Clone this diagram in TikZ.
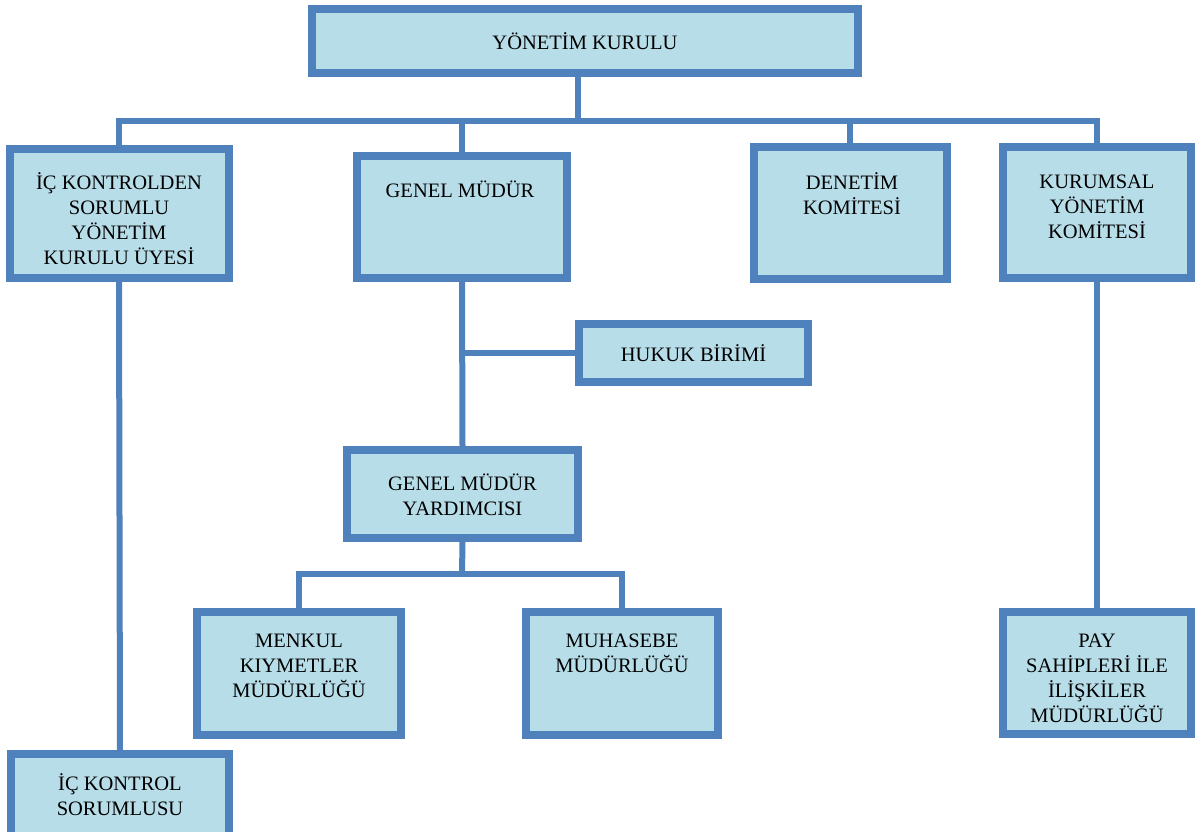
\documentclass[tikz,border=0pt]{standalone}
\usepackage{fontspec}
\setmainfont{Liberation Serif}
\definecolor{bordercol}{HTML}{4F81BD}
\definecolor{fillcol}{HTML}{B7DDE8}
\begin{document}
\begin{tikzpicture}[x=1pt,y=-1pt,
  box/.style={draw=bordercol,fill=fillcol,line width=8pt,rectangle,inner sep=0pt},
  conn/.style={draw=bordercol,line width=6pt,line join=miter},
  txt/.style={align=center,inner sep=0pt,font=\fontsize{20.5}{25}\selectfont}]
\clip (0,0) rectangle (1195,832);
\fill[white] (0,0) rectangle (1195,832);
% boxes
\node[box,minimum width=546pt,minimum height=64pt] (yk) at (585,41) {};
\node[box,minimum width=219pt,minimum height=129pt] (ick) at (119,213.5) {};
\node[box,minimum width=210pt,minimum height=122pt] (gm) at (462,217) {};
\node[box,minimum width=193pt,minimum height=132pt] (den) at (850,213) {};
\node[box,minimum width=188pt,minimum height=131pt] (kur) at (1097,212.5) {};
\node[box,minimum width=229pt,minimum height=58pt] (huk) at (693.5,353) {};
\node[box,minimum width=231pt,minimum height=88pt] (gmy) at (462.5,494) {};
\node[box,minimum width=204pt,minimum height=123pt] (menk) at (299,673.5) {};
\node[box,minimum width=192pt,minimum height=123pt] (muh) at (622,673.5) {};
\node[box,minimum width=188pt,minimum height=122pt] (pay) at (1097,673) {};
\node[box,minimum width=218pt,minimum height=100pt] (sor) at (120,804) {};
% texts
\node[txt] (tyk) at (585,41) {YÖNETİM KURULU};
\node[txt] (tick) at (119,219) {İÇ KONTROLDEN\\SORUMLU\\YÖNETİM\\KURULU ÜYESİ};
\node[txt] (tgm) at (460,189) {GENEL MÜDÜR};
\node[txt] (tden) at (852,194) {DENETİM\\KOMİTESİ};
\node[txt] (tkur) at (1097,207) {KURUMSAL\\YÖNETİM\\KOMİTESİ};
\node[txt] (thuk) at (693.5,353) {HUKUK BİRİMİ};
\node[txt] (tgmy) at (462.5,494.5) {GENEL MÜDÜR\\YARDIMCISI};
\node[txt] (tmenk) at (299,666) {MENKUL\\KIYMETLER\\MÜDÜRLÜĞÜ};
\node[txt] (tmuh) at (622,653) {MUHASEBE\\MÜDÜRLÜĞÜ};
\node[txt] (tpay) at (1097,678) {PAY\\SAHİPLERİ İLE\\İLİŞKİLER\\MÜDÜRLÜĞÜ};
\node[txt] (tsor) at (120,795) {İÇ KONTROL\\SORUMLUSU};
% connectors
\coordinate (b1) at (578,121);
\coordinate (b2) at (462,574);
\draw[conn] (yk.south -| b1) -- (b1);
\draw[conn] (ick.north) |- (b1);
\draw[conn] (kur.north) |- (b1);
\draw[conn] (gm.north) -- (gm.north |- b1);
\draw[conn] (den.north) -- (den.north |- b1);
\draw[conn] (ick.south) -- (sor.north);
\draw[conn] (gm.south) -- (gmy.north);
\draw[conn] (huk.west) -- (huk.west -| gm.south);
\draw[conn] (kur.south) -- (pay.north);
\draw[conn] (gmy.south) -- (b2);
\draw[conn] (menk.north) |- (b2);
\draw[conn] (muh.north) |- (b2);
\end{tikzpicture}
\end{document}
